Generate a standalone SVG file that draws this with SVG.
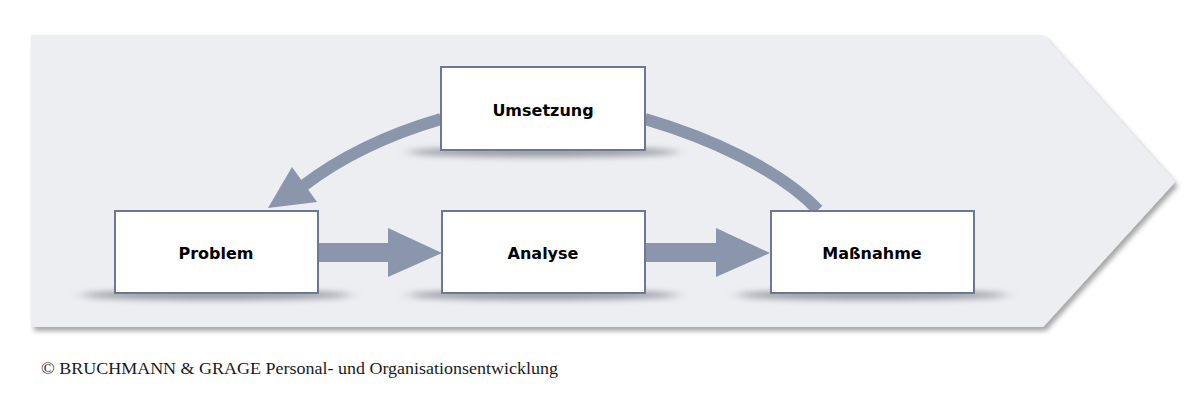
<svg xmlns="http://www.w3.org/2000/svg" width="1200" height="400" viewBox="0 0 1200 400">
  <defs>
    <filter id="bgShadow" x="-5%" y="-10%" width="115%" height="130%">
      <feDropShadow dx="3" dy="4" stdDeviation="2.5" flood-color="#000" flood-opacity="0.35"/>
    </filter>
    <filter id="blur" x="-30%" y="-300%" width="160%" height="700%">
      <feGaussianBlur stdDeviation="7 3"/>
    </filter>
    <style>
      .box { fill: #ffffff; stroke: #6c7791; stroke-width: 2; }
      .shadow { fill: #5f6470; opacity: 0.6; filter: url(#blur); }
      .label { font-family: "DejaVu Sans", "Liberation Sans", sans-serif; font-weight: bold; font-size: 16px; fill: #000; text-anchor: middle; }
      .arrow { fill: #8b96ac; }
      .curve { fill: none; stroke: #8b96ac; stroke-width: 12; }
      .footer { font-family: "Liberation Serif", "DejaVu Serif", serif; font-size: 16.5px; fill: #1a1a1a; }
    </style>
  </defs>

  <rect x="0" y="0" width="1200" height="400" fill="#ffffff"/>

  <!-- background chevron -->
  <polygon id="background" points="31,35 1043,35 1175,182 1043,327 31,327" fill="#edeef2" filter="url(#bgShadow)"/>

  <!-- box shadows -->
  <g id="shadows">
    <ellipse class="shadow" cx="216" cy="295" rx="135" ry="5"/>
    <ellipse class="shadow" cx="543" cy="295" rx="135" ry="5"/>
    <ellipse class="shadow" cx="872" cy="295" rx="135" ry="5"/>
    <ellipse class="shadow" cx="543" cy="152" rx="135" ry="5"/>
  </g>

  <!-- connectors -->
  <g id="connectors">
    <path class="curve" d="M645,119 C710,138 780,170 818,210"/>
    <path class="curve" d="M441,119 C376,138 333,163 303,186"/>
    <polygon class="arrow" points="268,208 292,167 317,202"/>
    <rect class="arrow" x="317" y="243" width="74" height="19"/>
    <polygon class="arrow" points="388,228 442,253 388,277"/>
    <rect class="arrow" x="645" y="243" width="74" height="19"/>
    <polygon class="arrow" points="716,228 770,253 716,277"/>
  </g>

  <!-- nodes -->
  <g id="node-umsetzung">
    <rect class="box" x="441" y="67" width="204" height="83"/>
    <text class="label" x="543" y="116">Umsetzung</text>
  </g>
  <g id="node-problem">
    <rect class="box" x="115" y="211" width="203" height="82"/>
    <text class="label" x="216" y="259">Problem</text>
  </g>
  <g id="node-analyse">
    <rect class="box" x="442" y="211" width="203" height="82"/>
    <text class="label" x="543" y="259">Analyse</text>
  </g>
  <g id="node-massnahme">
    <rect class="box" x="771" y="211" width="203" height="82"/>
    <text class="label" x="872" y="259">Maßnahme</text>
  </g>

  <text class="footer" x="41" y="374" textLength="517" lengthAdjust="spacingAndGlyphs">© BRUCHMANN &amp; GRAGE Personal- und Organisationsentwicklung</text>
</svg>
